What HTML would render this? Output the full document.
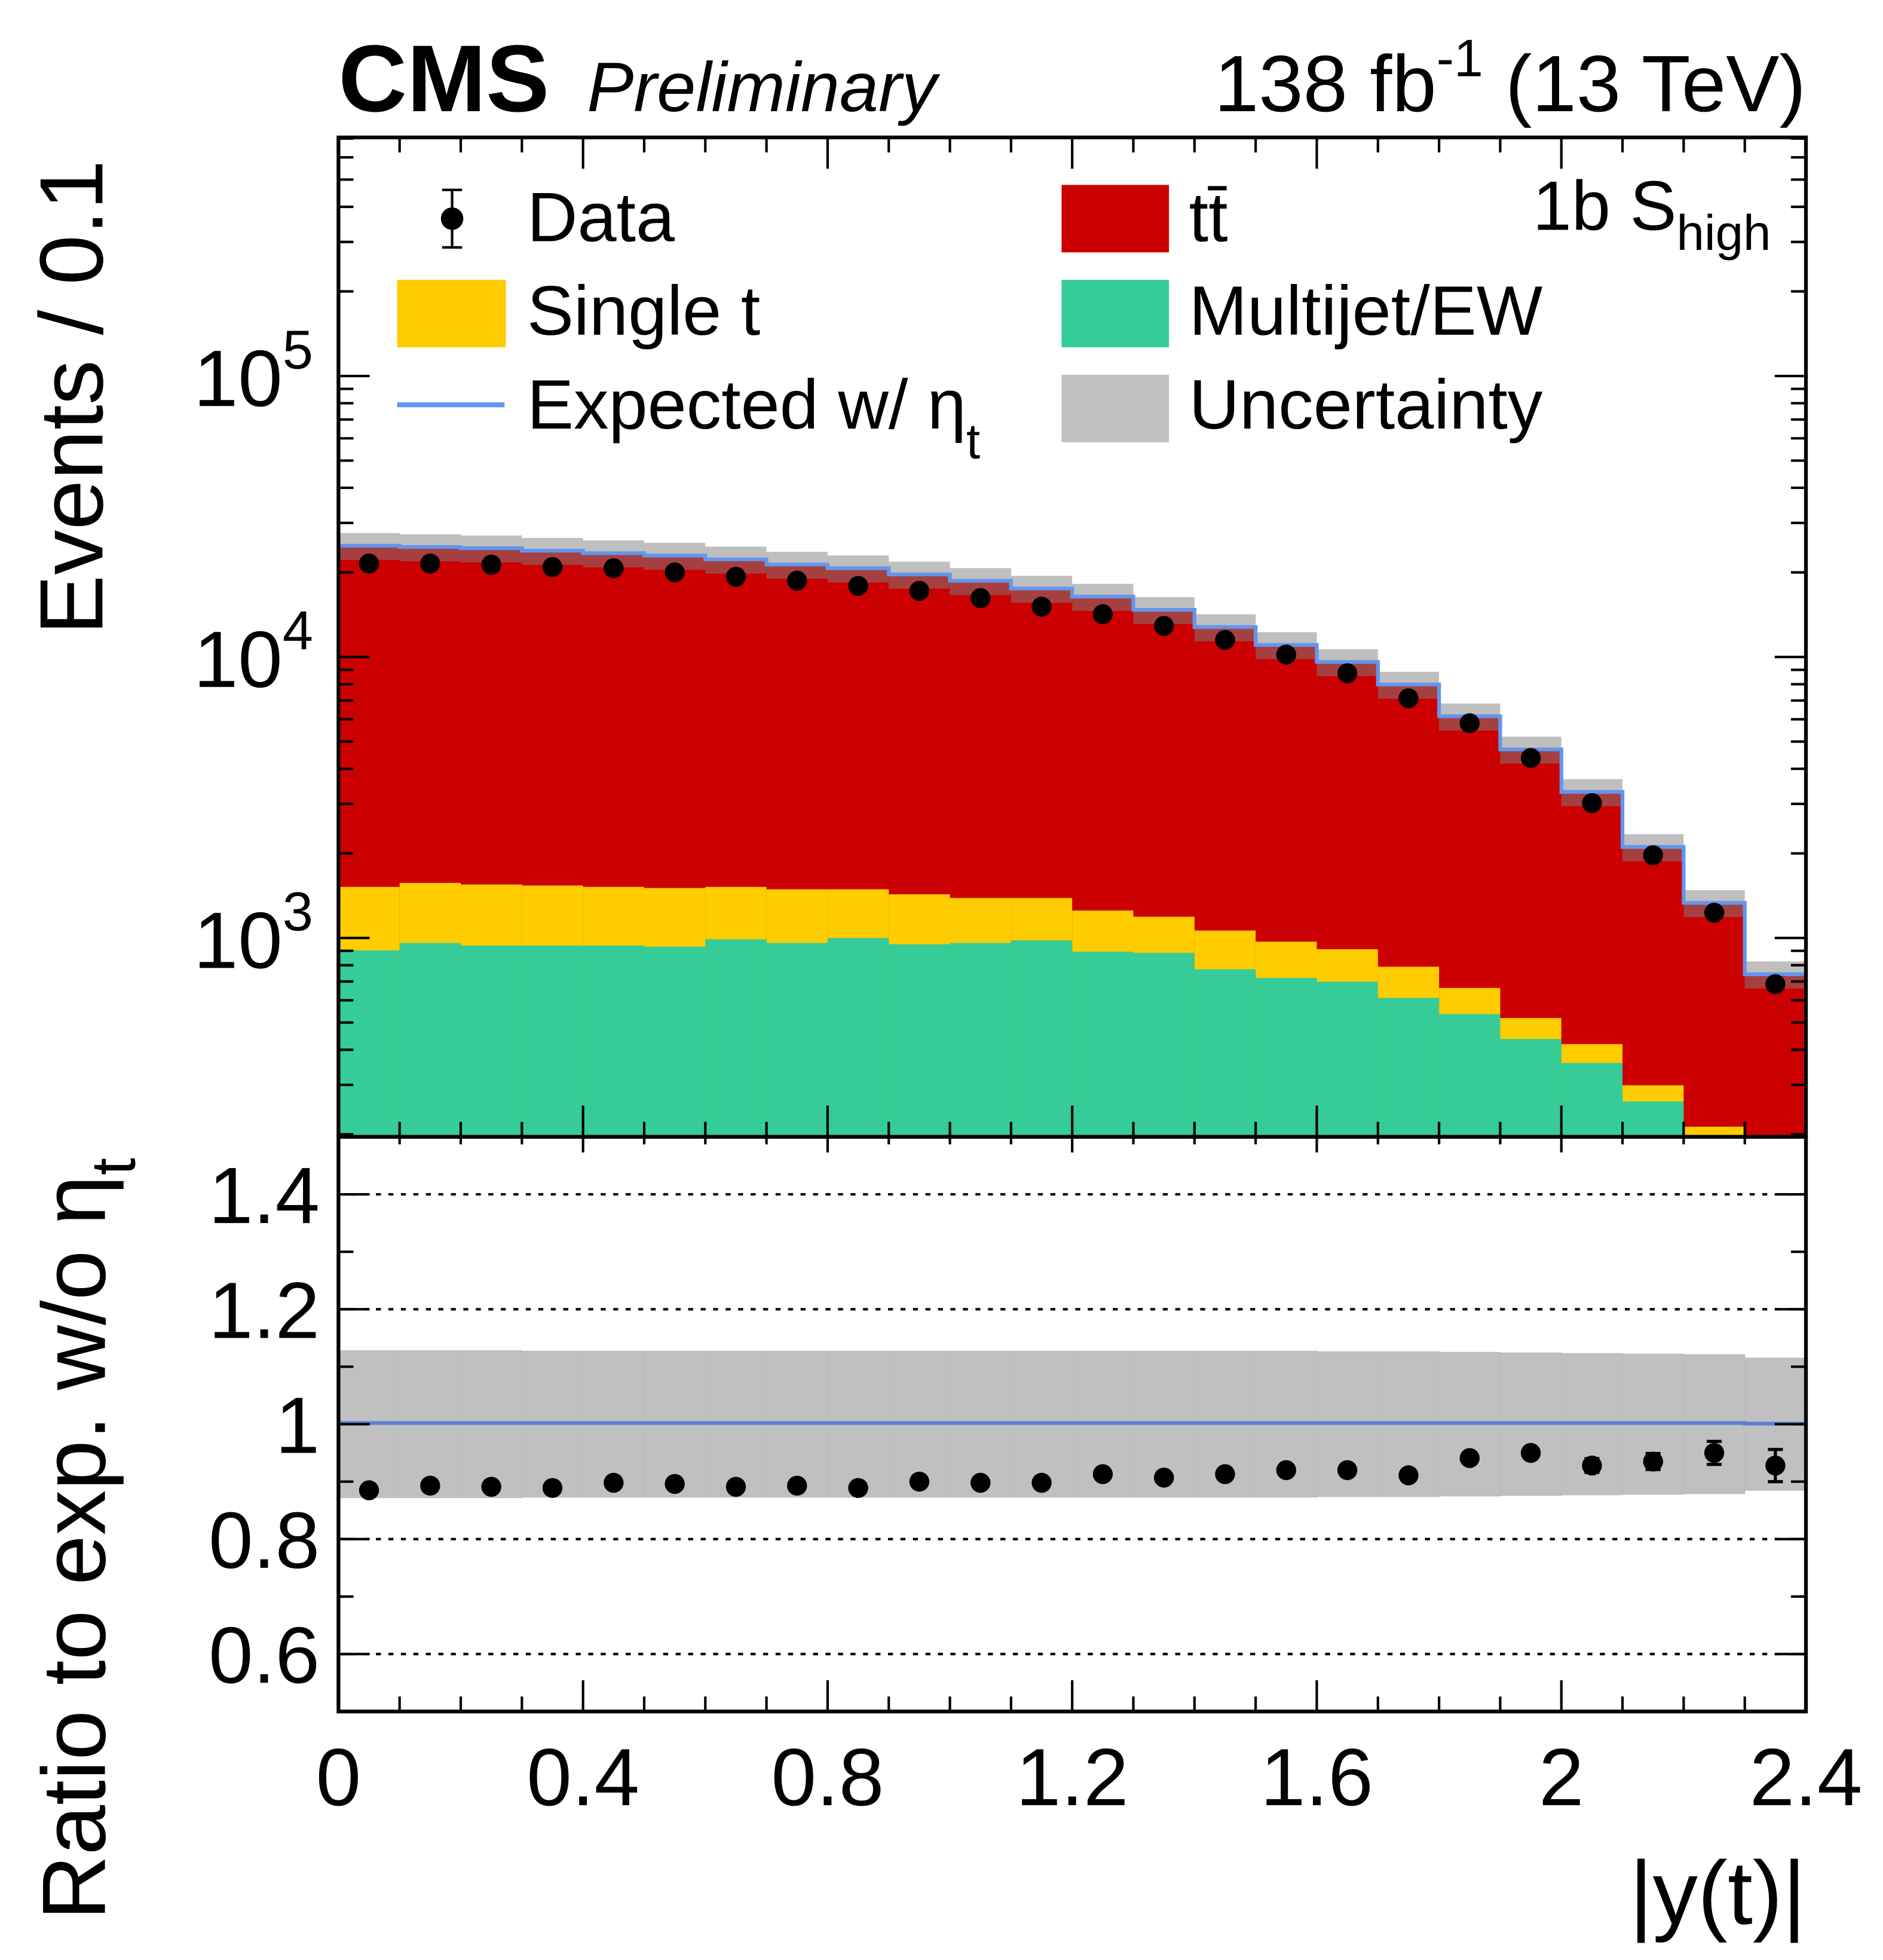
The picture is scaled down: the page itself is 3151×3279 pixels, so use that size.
<!DOCTYPE html>
<html><head><meta charset="utf-8"><style>
html,body{margin:0;padding:0;background:#fff}
svg{display:block;font-family:"Liberation Sans",Arial,sans-serif}
</style></head><body>
<svg id="chart" width="3151" height="3279" viewBox="0 0 1507.7 1568.9" xmlns="http://www.w3.org/2000/svg">
<g id="upper"></g>
<g id="lower"></g>
<g id="axes"></g>
<text x="271" y="89" font-size="76" font-weight="bold">CMS</text>
<text x="470" y="89" font-size="56" font-style="italic">Preliminary</text>
<text x="1446" y="89" font-size="64" text-anchor="end">138 fb<tspan dy="-28" font-size="42">-1</tspan><tspan dy="28"> (13 TeV)</tspan></text>
<text x="1418" y="184" font-size="56" text-anchor="end">1b S<tspan dy="16" font-size="40">high</tspan></text>
<g>
 <g>
  <line x1="362" y1="152" x2="362" y2="198" stroke="#000" stroke-width="2"/>
  <line x1="354" y1="152" x2="370" y2="152" stroke="#000" stroke-width="2"/>
  <line x1="354" y1="198" x2="370" y2="198" stroke="#000" stroke-width="2"/>
  <circle cx="362" cy="175" r="9"/>
  <text x="422" y="193" font-size="56">Data</text>
 </g>
 <g>
  <rect x="318" y="224" width="87" height="54" fill="#ffcc00"/>
  <text x="422" y="268" font-size="56">Single t</text>
 </g>
 <g>
  <line x1="318" y1="324" x2="404" y2="324" stroke="#6495ed" stroke-width="4"/>
  <text x="422" y="343" font-size="56">Expected w/ η<tspan dy="24" font-size="40">t</tspan></text>
 </g>
 <g>
  <rect x="850" y="148" width="86" height="54" fill="#cc0000"/>
  <text x="952" y="193" font-size="56">tt̄</text>
 </g>
 <g>
  <rect x="850" y="224" width="86" height="54" fill="#36cc98"/>
  <text x="952" y="268" font-size="56">Multijet/EW</text>
 </g>
 <g>
  <rect x="850" y="300" width="86" height="54" fill="#c0c0c0"/>
  <text x="952" y="343" font-size="56">Uncertainty</text>
 </g>
</g>
<text transform="translate(82,128) rotate(-90)" font-size="72" text-anchor="end">Events / 0.1</text>
<text transform="translate(84,1537) rotate(-90)" font-size="72">Ratio to exp. w/o η<tspan dy="24" font-size="50">t</tspan></text>
<text x="1446" y="1540" font-size="72" text-anchor="end">|y(t)|</text>
</svg>
<script>
const binEdges=[0,0.1,0.2,0.3,0.4,0.5,0.6,0.7,0.8,0.9,1.0,1.1,1.2,1.3,1.4,1.5,1.6,1.7,1.8,1.9,2.0,2.1,2.2,2.3,2.4];
const multijet=[903,960,940,940,940,931,990,960,1000,950,960,980,894,885,774,721,699,612,536,437,359,262,150,60];
const singleT=[617,610,610,597,580,575,530,530,490,480,428,408,358,305,289,249,213,178,128,82,60,37,63,40];
const ttbar=[23360,23060,22840,22360,21900,21440,20740,19840,19210,18240,17280,16130,15150,13530,11720,10070,8690,7190,5490,4170,2890,1810,1120,643];
const relUnc=[0.11,0.11,0.11,0.11,0.11,0.11,0.11,0.11,0.11,0.11,0.11,0.11,0.11,0.11,0.11,0.11,0.11,0.11,0.11,0.11,0.11,0.11,0.11,0.11];
const dataCounts=[21500,21500,21300,20900,20700,20000,19300,18700,17900,17200,16200,15100,14200,12900,11500,10200,8750,7130,5810,4370,3020,1970,1230,685];
const ratioData=[0.885,0.893,0.891,0.889,0.898,0.896,0.891,0.893,0.889,0.900,0.898,0.898,0.913,0.907,0.913,0.920,0.920,0.911,0.941,0.950,0.928,0.935,0.950,0.928];
const ratioErr=[0.004,0.004,0.004,0.004,0.004,0.004,0.004,0.004,0.005,0.005,0.005,0.005,0.006,0.006,0.006,0.007,0.007,0.008,0.009,0.010,0.012,0.014,0.020,0.028];
const ratioUnc=[0.128,0.128,0.128,0.127,0.127,0.127,0.127,0.127,0.127,0.127,0.127,0.127,0.127,0.127,0.127,0.127,0.126,0.126,0.125,0.124,0.123,0.122,0.121,0.115];
const ratioExp=[1.002,1.002,1.002,1.002,1.002,1.002,1.002,1.002,1.002,1.002,1.002,1.002,1.002,1.002,1.002,1.002,1.002,1.002,1.002,1.002,1.002,1.002,1.002,1.001];
const xTicks=[0,0.4,0.8,1.2,1.6,2,2.4];
const xTickLabels=["0","0.4","0.8","1.2","1.6","2","2.4"];
const ratioTicks=[0.6,0.8,1.0,1.2,1.4];
const ratioTickLabels=["0.6","0.8","1","1.2","1.4"];
const logDecades=[3,4,5];

const NS="http://www.w3.org/2000/svg";
const L=271,R=1446,T=110,M=910,B=1370;
const X=v=>L+(v-0)/(2.4-0)*(R-L);
const LOGMIN=2.2922,LOGMAX=5.849;
const Y=v=>{let l=Math.log10(Math.max(v,1e-3));return M-(l-LOGMIN)/(LOGMAX-LOGMIN)*(M-T);};
const YR=v=>B-(v-0.5)/(1.5-0.5)*(B-M);
function el(tag,attrs,parent){const e=document.createElementNS(NS,tag);for(const k in attrs)e.setAttribute(k,attrs[k]);parent.appendChild(e);return e;}
const up=document.getElementById('upper'),lo=document.getElementById('lower'),ax=document.getElementById('axes');
const clipU=el('clipPath',{id:'cu'},up);el('rect',{x:L,y:T,width:R-L,height:M-T},clipU);
const gU=el('g',{'clip-path':'url(#cu)'},up);
const n=ttbar.length;
for(let i=0;i<n;i++){
  const x0=X(binEdges[i]),x1=X(binEdges[i+1]);
  const mj=multijet[i],st=mj+singleT[i],tot=st+ttbar[i];
  let r=el('rect',{x:x0,y:Y(tot),width:x1-x0+0.5,height:M-Y(tot)+2,fill:'#cc0000'},gU);
  
  
  r=el('rect',{x:x0,y:Y(st),width:x1-x0+0.5,height:M-Y(st)+2,fill:'#ffcc00'},gU);
  
  
  r=el('rect',{x:x0,y:Y(mj),width:x1-x0+0.5,height:M-Y(mj)+2,fill:'#36cc98'},gU);
  
  
  const hi=tot*(1+relUnc[i]),lw=tot*(1-relUnc[i]);
  r=el('rect',{x:x0,y:Y(hi),width:x1-x0,height:Y(lw)-Y(hi),fill:'#808080','fill-opacity':0.5},gU);
  
  
}
let d='';
for(let i=0;i<n;i++){const tot=multijet[i]+singleT[i]+ttbar[i];d+=(i?'L':'M')+X(binEdges[i])+' '+Y(tot)+' L'+X(binEdges[i+1])+' '+Y(tot)+' ';}
d+='L'+X(binEdges[n])+' '+M;
let p=el('path',{d:d,fill:'none',stroke:'#6495ed','stroke-width':3},gU);


for(let i=0;i<n;i++){
  const cx=(X(binEdges[i])+X(binEdges[i+1]))/2,v=dataCounts[i],e=Math.sqrt(v);
  el('line',{x1:cx,x2:cx,y1:Y(v+e),y2:Y(v-e),stroke:'#000','stroke-width':2},gU);
  const c=el('circle',{cx:cx,cy:Y(v),r:8,fill:'#000'},gU);
  
  
}
for(let i=0;i<n;i++){
  const x0=X(binEdges[i]),x1=X(binEdges[i+1]);
  const r=el('rect',{x:x0,y:YR(1+ratioUnc[i]),width:x1-x0,height:YR(1-ratioUnc[i])-YR(1+ratioUnc[i]),fill:'#c0c0c0',stroke:'#bababa','stroke-width':0.6},lo);
  
  
}
for(const t of ratioTicks){ if(t!==1.0){const g=el('line',{x1:L,x2:R,y1:YR(t),y2:YR(t),stroke:'#000','stroke-width':2,'stroke-dasharray':'4 6'},lo);
  
  }}
d='';
for(let i=0;i<n;i++){d+=(i?'L':'M')+X(binEdges[i])+' '+YR(ratioExp[i])+' L'+X(binEdges[i+1])+' '+YR(ratioExp[i])+' ';}
p=el('path',{d:d,fill:'none',stroke:'#5b7fd6','stroke-width':3},lo);


for(let i=0;i<n;i++){
  const cx=(X(binEdges[i])+X(binEdges[i+1]))/2,v=ratioData[i],e=ratioErr[i];
  el('line',{x1:cx,x2:cx,y1:YR(v+e),y2:YR(v-e),stroke:'#000','stroke-width':2.5},lo);
  if(e>0.01){el('line',{x1:cx-6,x2:cx+6,y1:YR(v+e),y2:YR(v+e),stroke:'#000','stroke-width':2.5},lo);el('line',{x1:cx-6,x2:cx+6,y1:YR(v-e),y2:YR(v-e),stroke:'#000','stroke-width':2.5},lo);}
  const c=el('circle',{cx:cx,cy:YR(v),r:8,fill:'#000'},lo);
  
  
}
el('rect',{x:L,y:T,width:R-L,height:M-T,fill:'none',stroke:'#000','stroke-width':3},ax);
el('rect',{x:L,y:M,width:R-L,height:B-M,fill:'none',stroke:'#000','stroke-width':3},ax);
for(let k=0;k<=24;k++){
  const v=k*0.1,x=X(v),maj=(k%4===0),len=maj?25:12;
  el('line',{x1:x,x2:x,y1:M,y2:M-len,stroke:'#000','stroke-width':2},ax);
  el('line',{x1:x,x2:x,y1:T,y2:T+len,stroke:'#000','stroke-width':2},ax);
  el('line',{x1:x,x2:x,y1:B,y2:B-len,stroke:'#000','stroke-width':2},ax);
  el('line',{x1:x,x2:x,y1:M,y2:M+len*0.5,stroke:'#000','stroke-width':2},ax);
}
xTicks.forEach((v,i)=>{const t=el('text',{x:X(v),y:1445,'font-size':65,'text-anchor':'middle'},ax);t.textContent=xTickLabels[i];
  
  });
for(let dec=2;dec<=5;dec++){for(let m=1;m<=9;m++){const v=m*Math.pow(10,dec),y=Y(v);if(y<T||y>M)continue;const len=m===1?25:12;
  el('line',{x1:L,x2:L+len,y1:y,y2:y,stroke:'#000','stroke-width':2},ax);
  el('line',{x1:R,x2:R-len,y1:y,y2:y,stroke:'#000','stroke-width':2},ax);}}
logDecades.forEach(dec=>{const y=Y(Math.pow(10,dec));const t=el('text',{x:155,y:y+24,'font-size':64},ax);
  
  
  t.textContent='10';const s=el('tspan',{dy:-30,'font-size':44},t);s.textContent=String(dec);});
ratioTicks.forEach((v,i)=>{const y=YR(v);
  el('line',{x1:L,x2:L+25,y1:y,y2:y,stroke:'#000','stroke-width':2},ax);
  el('line',{x1:R,x2:R-25,y1:y,y2:y,stroke:'#000','stroke-width':2},ax);
  const t=el('text',{x:256,y:y+23,'font-size':64,'text-anchor':'end'},ax);t.textContent=ratioTickLabels[i];
  
  });
for(let k=0;k<=10;k++){const y=YR(0.5+k*0.1);el('line',{x1:L,x2:L+12,y1:y,y2:y,stroke:'#000','stroke-width':2},ax);el('line',{x1:R,x2:R-12,y1:y,y2:y,stroke:'#000','stroke-width':2},ax);}
</script>
</body></html>
